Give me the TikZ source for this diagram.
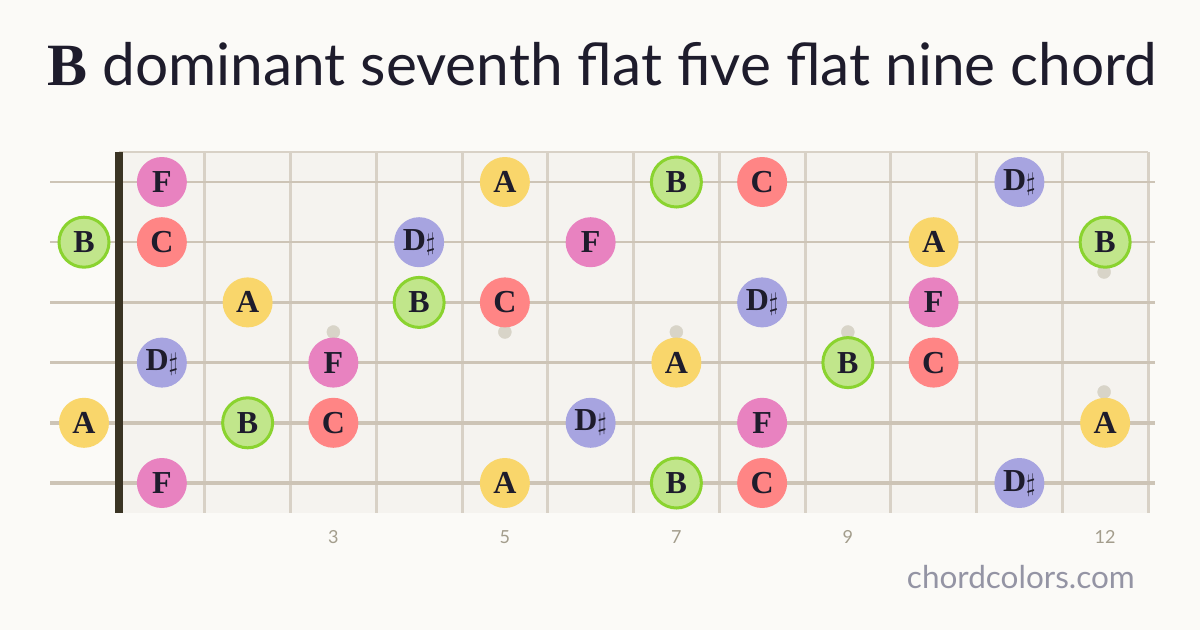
\documentclass[tikz,border=0pt]{standalone}
\usepackage{fontspec}
\setmainfont{Liberation Serif}
\newfontfamily\titlefont{Lato}
\newfontfamily\notefont{Liberation Serif}

\definecolor{paper}{HTML}{FBFAF7}
\definecolor{board}{HTML}{F5F3EF}
\definecolor{ink}{HTML}{1E1C2C}
\definecolor{nutcol}{HTML}{3A3424}
\definecolor{fretcol}{HTML}{D8D1C6}
\definecolor{stringcol}{HTML}{CDC4B6}
\definecolor{inlaycol}{HTML}{D8D4C8}
\definecolor{numcol}{HTML}{A39D8C}
\definecolor{markcol}{HTML}{9494A4}
\definecolor{colF}{HTML}{E882C0}
\definecolor{colC}{HTML}{FF8585}
\definecolor{colA}{HTML}{F9D66B}
\definecolor{colB}{HTML}{C1E68B}
\definecolor{ringB}{HTML}{8AD32F}
\definecolor{colD}{HTML}{A7A4E0}

\tikzset{
  note/.style={circle, minimum size=50pt, inner sep=0pt, text=ink,
    font=\notefont\bfseries\fontsize{32}{32}\selectfont},
  rootnote/.style={note, draw=ringB, line width=3pt, fill=colB},
  inlay/.style={inlaycol, fill=inlaycol},
  fretnum/.style={text=numcol, font=\titlefont\fontsize{18}{18}\selectfont}
}

\begin{document}
\begin{tikzpicture}[x=1pt, y=-1pt]
  \useasboundingbox (0,0) rectangle (1200,630);
  \fill [paper] (0,0) rectangle (1200,630);

  % title
  \node [anchor=base west, inner sep=0pt, text=ink] (title) at (47,85)
    {{\notefont\bfseries\fontsize{60}{60}\selectfont B}\titlefont\fontsize{58.6}{58.6}\selectfont{} dominant seventh flat five flat nine chord};

  % fretboard
  \fill [board] (119,152) rectangle (1148,513);
  \draw [fretcol, line width=1.5pt] (119,152) -- (1148,152);
  \foreach \f in {1,...,12}
    \draw [fretcol, line width=3pt] (119+85.75*\f,152) -- (119+85.75*\f,513);

  % inlays
  \foreach \f in {3,5,7,9}
    \draw [inlay] (119+85.75*\f-42.875,332) circle(6.5);
  \draw [inlay] (1104.1,272) circle(6.5);
  \draw [inlay] (1104.1,392) circle(6.5);

  % strings, thin to thick
  \foreach \s/\w in {1/2,2/2.5,3/3,4/3.5,5/4,6/4.5}
    \draw [stringcol, line width=\w pt] (50,182+60.2*\s-60.2) -- (1155,182+60.2*\s-60.2);

  % nut
  \draw [nutcol, line width=8pt] (119,152) -- (119,513);

  % fret numbers
  \foreach \f in {3,5,7,9,12}
    \node [fretnum] (num\f) at (119+85.75*\f-42.875,537) {\f};

  % notes: string/fret/label/colour (fret 0 = open)
  \foreach \s/\f/\n/\c in {
      1/1/F/colF, 1/5/A/colA, 1/8/C/colC, 1/11/D$\sharp$/colD,
      2/1/C/colC, 2/4/D$\sharp$/colD, 2/6/F/colF, 2/10/A/colA,
      3/2/A/colA, 3/5/C/colC, 3/8/D$\sharp$/colD, 3/10/F/colF,
      4/1/D$\sharp$/colD, 4/3/F/colF, 4/7/A/colA, 4/10/C/colC,
      5/0/A/colA, 5/3/C/colC, 5/6/D$\sharp$/colD, 5/8/F/colF, 5/12/A/colA,
      6/1/F/colF, 6/5/A/colA, 6/8/C/colC, 6/11/D$\sharp$/colD}
  {
    \pgfmathsetmacro{\nx}{\f==0 ? 84 : 119+85.75*\f-42.875}
    \node [note, fill=\c] (n-\s-\f) at (\nx,182+60.2*\s-60.2) {\n};
  }
  % roots
  \foreach \s/\f in {1/7, 2/0, 2/12, 3/4, 4/9, 5/2, 6/7}
  {
    \pgfmathsetmacro{\nx}{\f==0 ? 84 : 119+85.75*\f-42.875}
    \node [rootnote] (n-\s-\f) at (\nx,182+60.2*\s-60.2) {B};
  }

  \node [anchor=base east, inner sep=0pt, text=markcol,
    font=\titlefont\fontsize{31.5}{31.5}\selectfont] (site) at (1135,588) {chordcolors.com};
\end{tikzpicture}
\end{document}
